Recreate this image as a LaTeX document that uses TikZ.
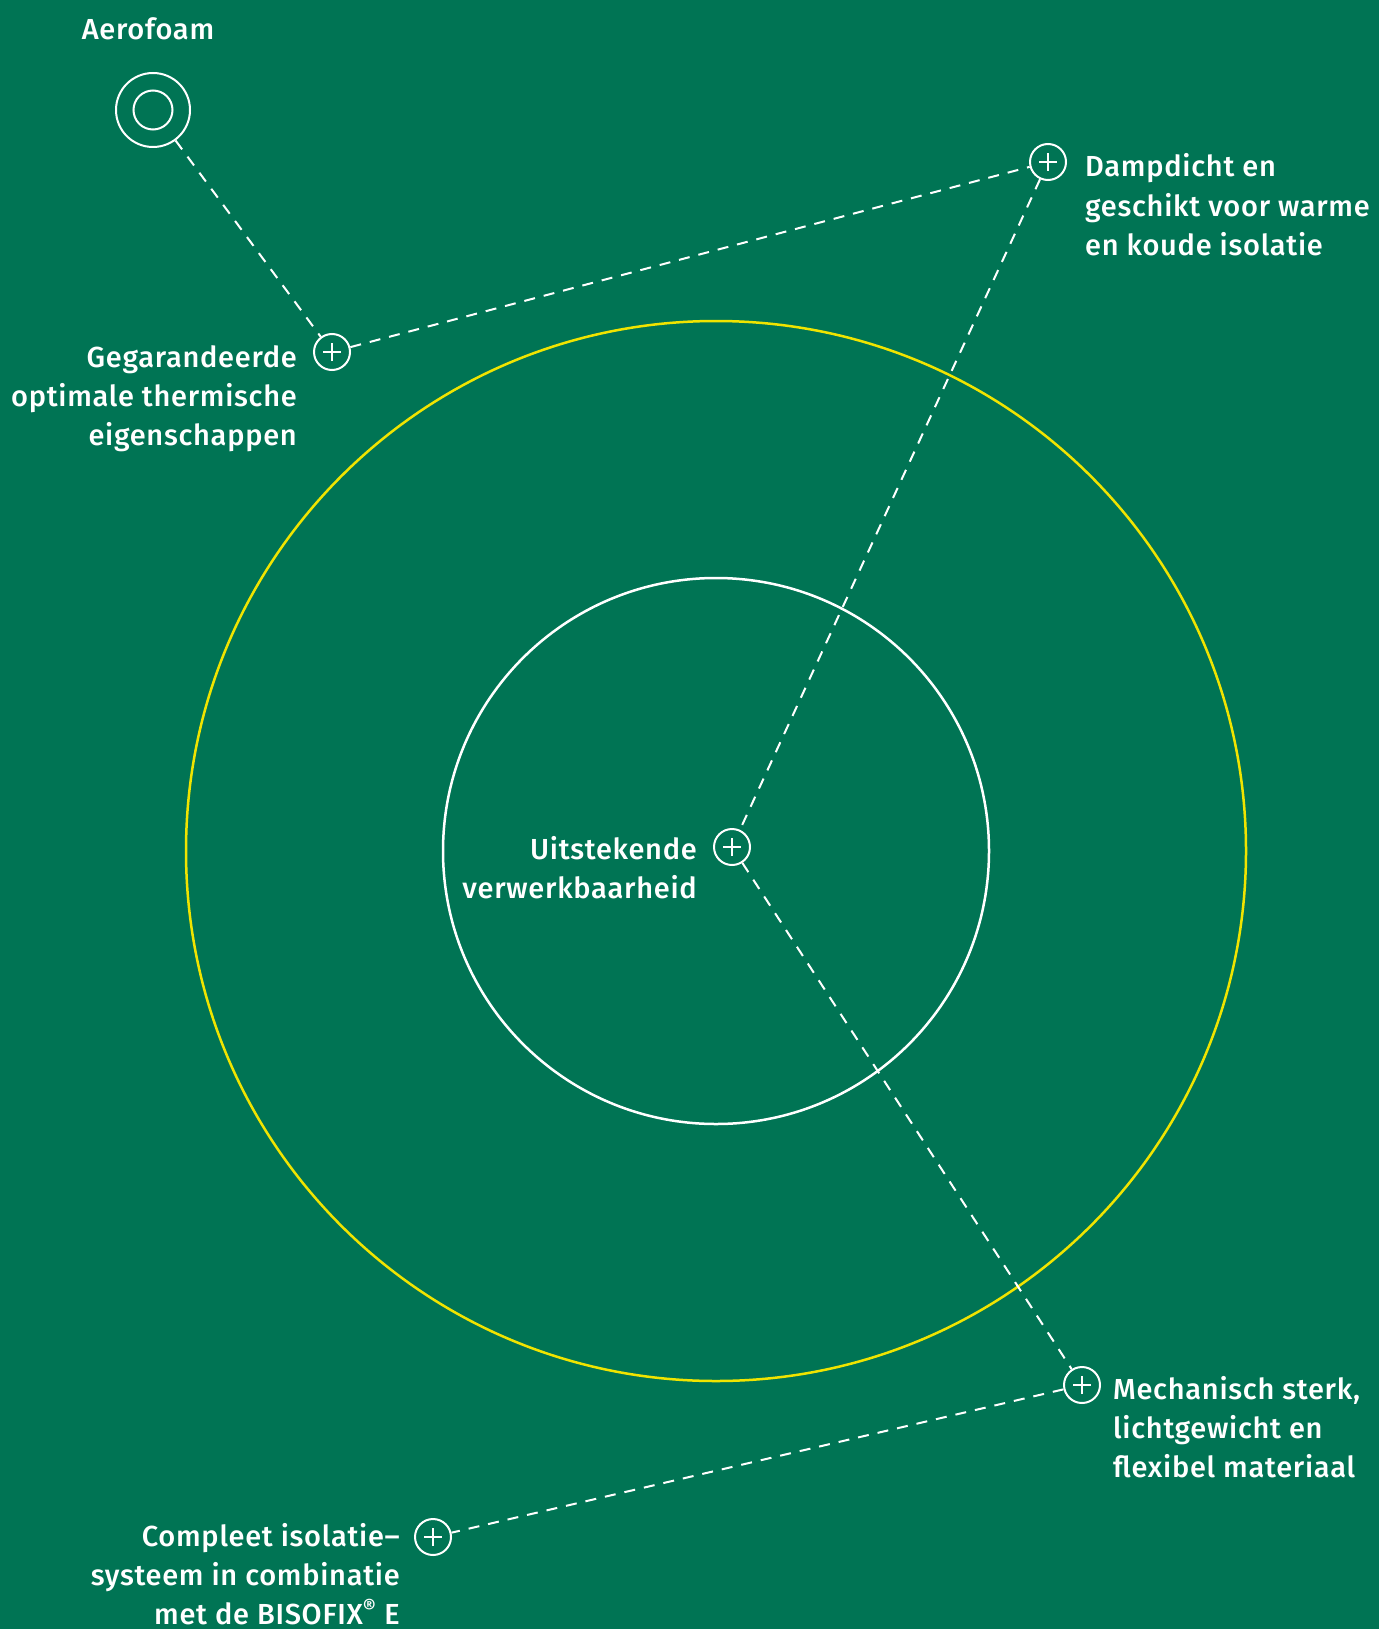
\documentclass[tikz,border=0pt]{standalone}
\usepackage{fontspec}
\setmainfont{Fira Sans}[UprightFont={* Medium}, LetterSpace=2.5]
\definecolor{bggreen}{RGB}{0,116,84}
\definecolor{ring}{RGB}{240,228,0}
\tikzset{
  lbl/.style={text=white, inner sep=0pt, font=\fontsize{29}{39}\selectfont},
  plusc/.style={circle, draw=white, line width=2pt, minimum size=36pt, inner sep=0pt,
    path picture={\draw[white,line width=2.4pt]
      ([xshift=-9pt]path picture bounding box.center) -- ([xshift=9pt]path picture bounding box.center)
      ([yshift=-9pt]path picture bounding box.center) -- ([yshift=9pt]path picture bounding box.center);}},
  conn/.style={draw=white, line width=2pt, dash pattern=on 11pt off 9pt}
}
\begin{document}
\begin{tikzpicture}[x=1pt,y=-1pt]
\fill[bggreen] (0,0) rectangle (1379,1629);
\useasboundingbox (0,0) rectangle (1379,1629);
% rings
\node[circle, draw=ring, line width=2.5pt, minimum size=1060pt, inner sep=0pt] (outer) at (716,851) {};
\node[circle, draw=white, line width=2.5pt, minimum size=546pt, inner sep=0pt] (inner) at (716,851) {};
% Aerofoam target
\node[circle, draw=white, line width=2pt, minimum size=74pt, inner sep=0pt] (aero) at (153,110) {};
\node[circle, draw=white, line width=2pt, minimum size=39pt, inner sep=0pt] (aeroin) at (153,110) {};
\node[lbl, anchor=base] (aerot) at (148,40) {Aerofoam};
% plus markers
\node[plusc] (p1) at (332,352) {};
\node[plusc] (p2) at (1048,162) {};
\node[plusc] (p3) at (732,847) {};
\node[plusc] (p4) at (1082,1385) {};
\node[plusc] (p5) at (433,1537) {};
% connectors
\draw[conn] (aero) -- (p1);
\draw[conn] (p1) -- (p2);
\draw[conn] (p2) -- (p3);
\draw[conn] (p3) -- (p4);
\draw[conn] (p4) -- (p5);
% labels (base anchor = last line baseline)
\node[lbl, anchor=base east, align=right] (t1) at (297,445) {Gegarandeerde\\optimale thermische\\eigenschappen};
\node[lbl, anchor=base west, align=left] (t2) at (1085,255) {Dampdicht en\\geschikt voor warme\\en koude isolatie};
\node[lbl, anchor=base east, align=right] (t3) at (697,898) {Uitstekende\\verwerkbaarheid};
\node[lbl, anchor=base west, align=left] (t4) at (1113,1477) {Mechanisch sterk,\\lichtgewicht en\\flexibel materiaal};
\node[lbl, anchor=base east, align=right] (t5) at (400,1624) {Compleet isolatie–\\systeem in combinatie\\met de BISOFIX\textsuperscript{®} E};
\end{tikzpicture}
\end{document}
